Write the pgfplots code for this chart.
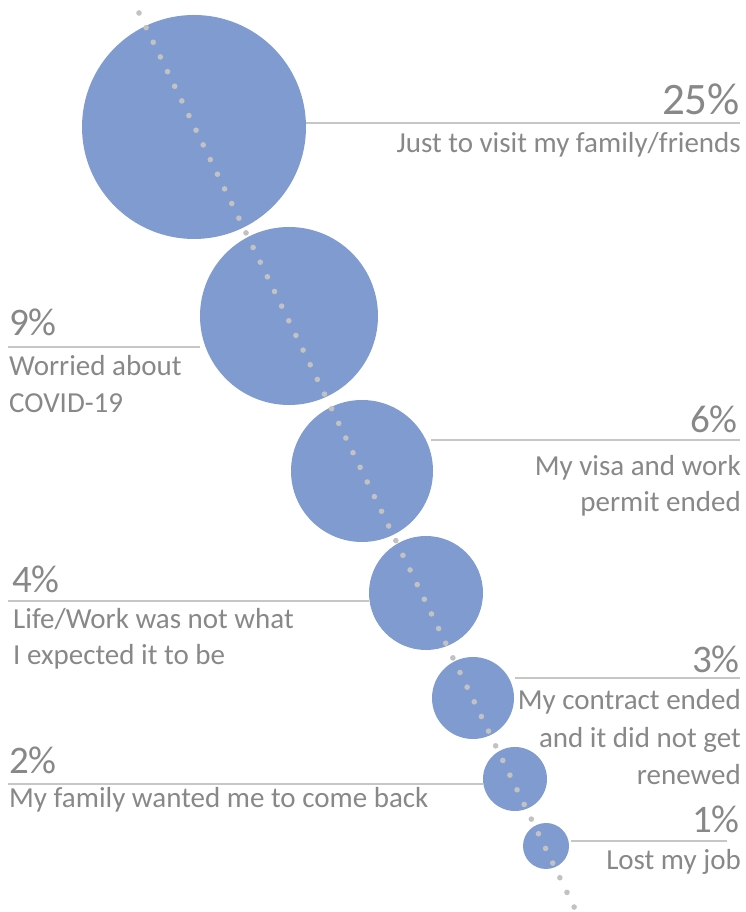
\documentclass[border=0pt]{standalone}
\usepackage{fontspec}
\setmainfont{Carlito}
\usepackage{pgfplots}
\pgfplotsset{compat=1.18}
\usepackage{pgfplotstable}

\definecolor{bubble}{HTML}{7F9BD0}
\definecolor{dotgray}{HTML}{C2C2C2}
\definecolor{linegray}{HTML}{C6C6C6}
\definecolor{txtgray}{HTML}{888888}

% bubble centres and radii, in pixels of the reference
\pgfplotstableread{
x   y    r    pct
194 127  112  25
289 316  89   9
362 471  71   6
426 593  57   4
473 698  41   3
515 779  32   2
546 846  23   1
}\bubbles

\newcommand{\pc}{\fontsize{39bp}{39bp}\selectfont}
\newcommand{\lb}{\fontsize{29bp}{29bp}\selectfont}

\begin{document}
\begin{tikzpicture}
\begin{axis}[
  scale only axis, width=746bp, height=912bp,
  xmin=0, xmax=746, ymin=0, ymax=912, y dir=reverse,
  hide axis, set layers, clip bounding box=upper bound,
]
  % keeps the whole frame in the bounding box
  \addplot[draw=none, forget plot] coordinates {(0,0) (746,912)};

  \addplot[scatter, only marks, mark=*,
    scatter/use mapped color={draw opacity=0, fill=bubble},
    visualization depends on={\thisrow{r} \as \rad},
    scatter/@pre marker code/.append style={/tikz/mark size=\rad bp}]
    table[x=x, y=y] {\bubbles};

  % dotted diagonal, above the bubbles
  \addplot[on layer=axis foreground, dotgray, line width=5.6bp, line cap=round,
    dash pattern=on 0pt off 16.3bp] coordinates {(139,13) (578,915)};

  % leader lines
  \addplot[linegray, line width=2.2bp] coordinates {(305,123) (740,123)};
  \addplot[linegray, line width=2.2bp] coordinates {(8,347) (200,347)};
  \addplot[linegray, line width=2.2bp] coordinates {(431,440) (740,440)};
  \addplot[linegray, line width=2.2bp] coordinates {(8,601) (369,601)};
  \addplot[linegray, line width=2.2bp] coordinates {(515,678) (740,678)};
  \addplot[linegray, line width=2.2bp] coordinates {(8,784) (483,784)};
  \addplot[linegray, line width=2.2bp] coordinates {(571,841) (727,841)};

  \begin{scope}[every node/.style={inner sep=0pt, text=txtgray}]
  \node[anchor=base east] at (axis cs:740,115) {\fontsize{45bp}{45bp}\selectfont 25\%};
  \node[anchor=base east] at (axis cs:741,153) {\lb Just to visit my family/friends};

  \node[anchor=base west] at (axis cs:9,336) {\pc 9\%};
  \node[anchor=base west] at (axis cs:9,376) {\lb Worried about};
  \node[anchor=base west] at (axis cs:9,413) {\lb COVID-19};

  \node[anchor=base east] at (axis cs:738,433) {\pc 6\%};
  \node[anchor=base east] at (axis cs:741,476) {\lb My visa and work};
  \node[anchor=base east] at (axis cs:741,512) {\lb permit ended};

  \node[anchor=base west] at (axis cs:12,593) {\pc 4\%};
  \node[anchor=base west] at (axis cs:13,629) {\lb Life/Work was not what};
  \node[anchor=base west] at (axis cs:13,665) {\lb I expected it to be};

  \node[anchor=base east] at (axis cs:740,673) {\pc 3\%};
  \node[anchor=base east] at (axis cs:741,710) {\lb My contract ended};
  \node[anchor=base east] at (axis cs:741,748) {\lb and it did not get};
  \node[anchor=base east] at (axis cs:741,785) {\lb renewed};

  \node[anchor=base west] at (axis cs:9,774) {\pc 2\%};
  \node[anchor=base west] at (axis cs:9,808) {\lb My family wanted me to come back};

  \node[anchor=base east] at (axis cs:740,833) {\pc 1\%};
  \node[anchor=base east] at (axis cs:741,870) {\lb Lost my job};
  \end{scope}
\end{axis}
\end{tikzpicture}
\end{document}
